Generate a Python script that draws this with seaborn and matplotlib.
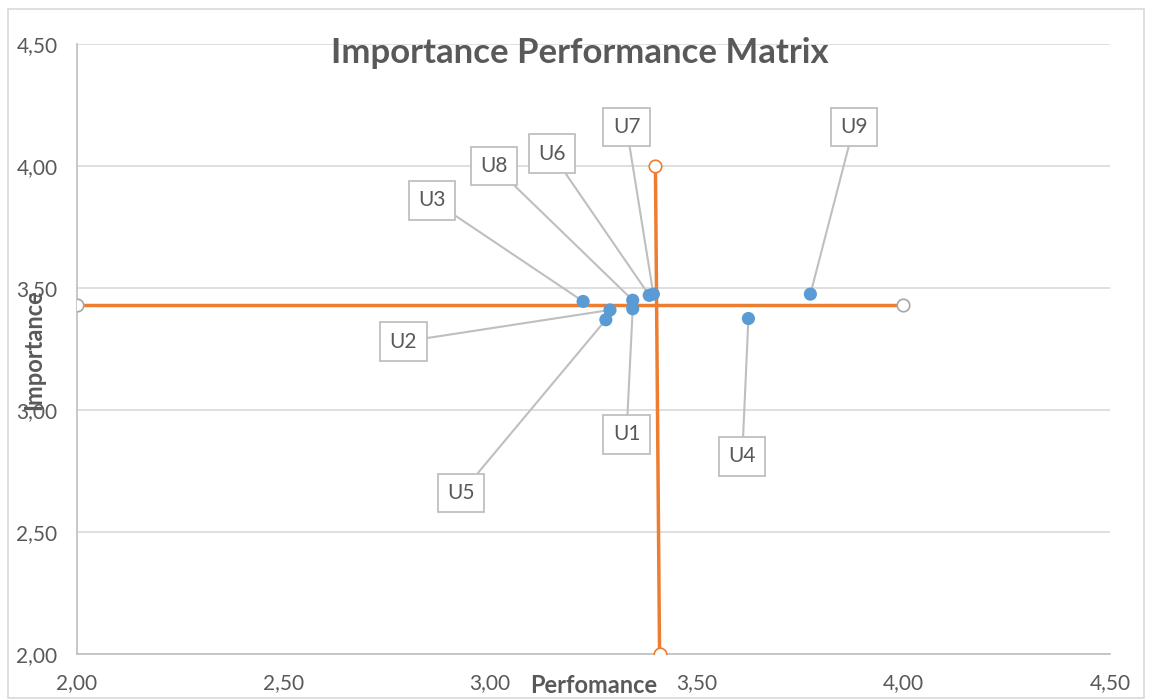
import numpy as np
import pandas as pd
import matplotlib
matplotlib.use("Agg")
import matplotlib.pyplot as plt
import seaborn as sns
from matplotlib.patches import Rectangle

# data
labels = ["U1", "U2", "U3", "U4", "U5", "U6", "U7", "U8", "U9"]
perf = [3.345, 3.29, 3.225, 3.625, 3.28, 3.385, 3.395, 3.345, 3.775]
imp = [3.415, 3.41, 3.445, 3.375, 3.37, 3.47, 3.475, 3.45, 3.475]
# label box centres (data coords)
lab_x = [3.33, 2.79, 2.86, 3.61, 2.93, 3.15, 3.33, 3.01, 3.88]
lab_y = [2.90, 3.28, 3.86, 2.81, 2.66, 4.05, 4.16, 4.00, 4.16]

# mean lines
hline_x = [2.0, 4.0]
hline_y = [3.43, 3.43]
vline_x = [3.40, 3.41]
vline_y = [4.0, 2.0]

sns.set_style("white")
plt.rcParams['font.family'] = ['Lato', 'DejaVu Sans']
grey = "#595959"
orange = "#ED7D31"
blue = "#5B9BD5"

fig = plt.figure(figsize=(11.52, 7), dpi=100)
ax = fig.add_axes([0.0668, 0.0657, 0.8967, 0.8714])
fig.patches.append(Rectangle((0.007, 0.003), 0.986, 0.984, transform=fig.transFigure,
                             fill=False, edgecolor="#d9d9d9", lw=1.2))

df = pd.DataFrame({"perf": perf, "imp": imp, "label": labels})

for i in range(len(labels)):
    ax.annotate(labels[i], xy=(perf[i], imp[i]), xytext=(lab_x[i], lab_y[i]),
                ha="center", va="center", fontsize=15, color=grey,
                bbox=dict(boxstyle="square,pad=0.45", fc="white", ec="#bfbfbf", lw=1.3),
                arrowprops=dict(arrowstyle="-", color="#bfbfbf", lw=1.5,
                                shrinkA=0, shrinkB=0), zorder=4)

sns.lineplot(x=hline_x, y=hline_y, ax=ax, sort=False, color=orange, lw=2.5,
             marker="o", markersize=9, markerfacecolor="white",
             markeredgecolor="#a6a6a6", markeredgewidth=1.2, zorder=3)
sns.lineplot(x=vline_x, y=vline_y, ax=ax, sort=False, color=orange, lw=2.5,
             marker="o", markersize=9, markerfacecolor="white",
             markeredgecolor=orange, markeredgewidth=1.2, zorder=3)

sns.scatterplot(data=df, x="perf", y="imp", ax=ax, color=blue, s=90,
                edgecolor="none", zorder=5)

ax.set_xlim(2.0, 4.5)
ax.set_ylim(2.0, 4.5)
ticks = np.arange(2.0, 4.51, 0.5)
ax.set_xticks(ticks)
ax.set_yticks(ticks)
ax.set_xticklabels([f"{t:.2f}".replace(".", ",") for t in ticks])
ax.set_yticklabels([f"{t:.2f}".replace(".", ",") for t in ticks])
ax.tick_params(axis="both", labelsize=15, colors=grey, length=0)
ax.tick_params(axis="x", pad=14)
ax.tick_params(axis="y", pad=14)
ax.yaxis.grid(True, color="#d9d9d9", lw=1.2)
ax.xaxis.grid(False)
for s in ["top", "right"]:
    ax.spines[s].set_visible(False)
for s in ["left", "bottom"]:
    ax.spines[s].set_color("#bfbfbf")
    ax.spines[s].set_linewidth(1.2)

ax.set_xlabel("")
ax.set_ylabel("")
fig.text(0.515, 0.021, "Perfomance", ha="center", va="center", fontsize=17,
         fontweight="bold", color=grey)
fig.text(0.029, 0.5, "Importance", ha="center", va="center", fontsize=17,
         fontweight="bold", color=grey, rotation=90)
fig.text(0.503, 0.924, "Importance Performance Matrix", ha="center", va="center",
         fontsize=25, fontweight="bold", color=grey)

fig.savefig("out.png", dpi=100)
